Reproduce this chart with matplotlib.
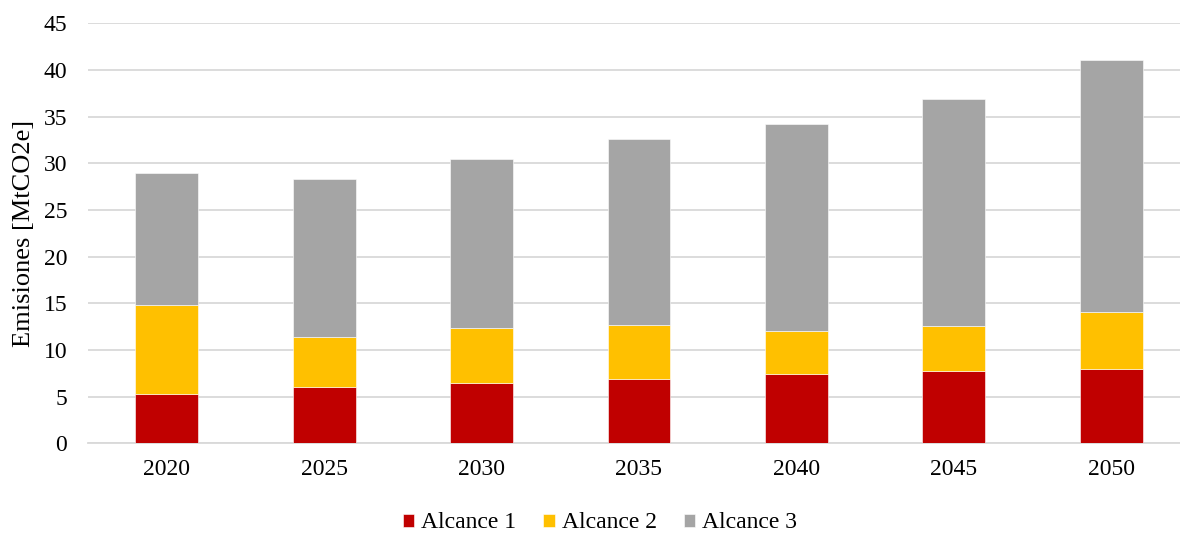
import numpy as np
import matplotlib.pyplot as plt

# Emisiones por alcance, MtCO2e
anios = ["2020", "2025", "2030", "2035", "2040", "2045", "2050"]
alcance_1 = [5.31, 6.07, 6.43, 6.93, 7.39, 7.75, 8.00]
alcance_2 = [9.54, 5.35, 5.89, 5.75, 4.64, 4.82, 6.07]
alcance_3 = [14.08, 16.87, 18.11, 19.92, 22.18, 24.36, 26.96]

colores = ["#c00000", "#ffc000", "#a5a5a5"]
etiquetas = ["Alcance 1", "Alcance 2", "Alcance 3"]

plt.rcParams["font.family"] = ["Liberation Serif", "DejaVu Serif"]

fig = plt.figure(figsize=(11.8, 5.33), dpi=100)
ax = fig.add_axes([88 / 1180, 1 - 443.3 / 533, 1102 / 1180, 420 / 533])

x = np.arange(len(anios))
base = np.zeros(len(anios))
for serie, color, lab in zip([alcance_1, alcance_2, alcance_3], colores, etiquetas):
    ax.bar(x, serie, bottom=base, width=0.4, color=color, label=lab,
           edgecolor="white", linewidth=0.4, zorder=3)
    base += np.array(serie)

ax.set_xlim(-0.5, len(anios) - 0.5)
ax.set_ylim(0, 45)
ax.set_yticks(range(0, 46, 5))
ax.set_xticks(x)
ax.set_xticklabels(anios)
ax.tick_params(axis="both", length=0, labelsize=17, colors="#000000")
ax.tick_params(axis="y", pad=15)
ax.tick_params(axis="x", pad=11)
ax.grid(axis="y", color="#d9d9d9", linewidth=1.3, zorder=0)
for s in ["top", "right", "left"]:
    ax.spines[s].set_visible(False)
ax.spines["bottom"].set_color("#d9d9d9")
ax.spines["bottom"].set_linewidth(1.3)

ax.set_ylabel("Emisiones [MtCO2e]", fontsize=19, labelpad=6)

fig.legend(loc="center", bbox_to_anchor=(600 / 1180, 1 - 523 / 533), ncol=3,
           frameon=False, fontsize=17, handlelength=0.47, handleheight=0.47,
           handletextpad=0.3, columnspacing=1.15)

fig.savefig("out.png", dpi=100)
